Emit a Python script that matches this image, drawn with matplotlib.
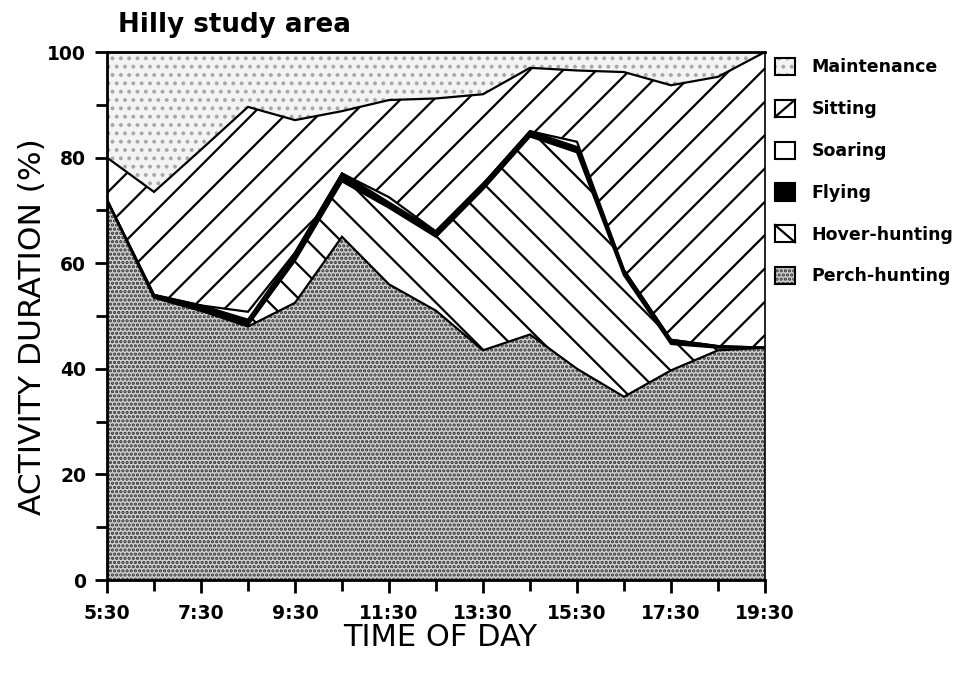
import numpy as np
import matplotlib
matplotlib.use("Agg")
import matplotlib.pyplot as plt
from matplotlib.patches import Patch, Rectangle
from matplotlib.lines import Line2D
from matplotlib.legend_handler import HandlerBase
from matplotlib.ticker import MultipleLocator

plt.rcParams['font.family'] = ['DejaVu Sans']
plt.rcParams['hatch.linewidth'] = 1.6

# ---- data ----
time_hours = [5.5, 6.5, 7.5, 8.5, 9.5, 10.5, 11.5, 12.5, 13.5, 14.5, 15.5, 16.5, 17.5, 18.5, 19.5]
tick_positions = [5.5, 7.5, 9.5, 11.5, 13.5, 15.5, 17.5, 19.5]
tick_labels = ['5:30', '7:30', '9:30', '11:30', '13:30', '15:30', '17:30', '19:30']

perch_hunting = [72, 53.5, 51, 48, 52.5, 65, 56, 51, 43.5, 46.5, 40, 34.7, 39.7, 43.5, 44]
hover_hunting = [0, 0, 0, 0.3, 8, 10.5, 14.5, 14, 30.5, 37.5, 41, 23, 5, 0.5, 0]
flying = [0, 0.5, 1, 1, 1.5, 1.5, 1, 1, 1, 1, 1, 1, 0.8, 0.3, 0]
soaring = [0, 0, 0, 1.5, 0, 0, 1, 0, 0, 0, 1, 0, 0, 0, 0]
sitting = [8, 19.5, 29.5, 38.8, 25.1, 11.8, 18.4, 25.2, 17, 12, 13.5, 37.5, 48.2, 51, 56]
maintenance = [20, 26.5, 18.5, 10.4, 12.9, 11.2, 9.1, 8.8, 8, 3, 3.5, 3.8, 6.3, 4.7, 0]

layer_names = ['Perch-hunting', 'Hover-hunting', 'Flying', 'Soaring', 'Sitting', 'Maintenance']
layers = [perch_hunting, hover_hunting, flying, soaring, sitting, maintenance]
legend_order = ['Maintenance', 'Sitting', 'Soaring', 'Flying', 'Hover-hunting', 'Perch-hunting']

# style per layer: facecolor, hatch, hatch colour
styles = {
    'Perch-hunting': ('#d0d0d0', '....', '#303030'),
    'Hover-hunting': ('white', '\\', '#000000'),
    'Flying': ('black', None, '#000000'),
    'Soaring': ('white', None, '#000000'),
    'Sitting': ('white', '/', '#000000'),
    'Maintenance': ('#f3f3f3', '..', '#a8a8a8'),
}
legend_diag = {'Sitting': '/', 'Hover-hunting': '\\'}

fig = plt.figure(figsize=(9.6, 6.8), dpi=100)
ax = fig.add_axes([107/960, 1-580/680, (765-107)/960, (580-52)/680])

x = np.array(time_hours)
cum = np.zeros(len(x))
tops = []
for name, vals in zip(layer_names, layers):
    lower = cum.copy()
    cum = cum + np.array(vals)
    fc, hatch, hc = styles[name]
    ax.fill_between(x, lower, cum, facecolor=fc, hatch=hatch, edgecolor=hc,
                    linewidth=0, zorder=1)
    tops.append(cum.copy())

for t in tops[:-1]:
    ax.plot(x, t, color='black', lw=1.6, zorder=3, solid_joinstyle='miter')

ax.set_xlim(5.5, 19.5)
ax.set_ylim(0, 100)

ax.set_xticks(tick_positions)
ax.set_xticklabels(tick_labels)
ax.set_xticks(time_hours, minor=True)
ax.yaxis.set_major_locator(MultipleLocator(20))
ax.yaxis.set_minor_locator(MultipleLocator(10))

for sp in ax.spines.values():
    sp.set_linewidth(2)
    sp.set_color('black')
ax.spines['right'].set_linewidth(1.2)

ax.tick_params(axis='both', which='major', direction='out', length=9, width=2,
               labelsize=13.5, pad=6)
ax.tick_params(axis='both', which='minor', direction='out', length=8, width=2)
ax.tick_params(axis='x', which='major', pad=8)
for lab in ax.get_xticklabels() + ax.get_yticklabels():
    lab.set_fontweight('bold')

fig.text(118/960, 1-25/680, 'Hilly study area', fontsize=18.8, fontweight='bold',
         ha='left', va='center')
fig.text(33/960, 1-327/680, 'ACTIVITY DURATION (%)', fontsize=22.5, rotation=90,
         ha='center', va='center')
fig.text(440/960, 1-637/680, 'TIME OF DAY', fontsize=22, ha='center', va='center')


class SwatchHandler(HandlerBase):
    def __init__(self, name):
        super().__init__()
        self.name = name

    def create_artists(self, legend, orig_handle, xdescent, ydescent, width, height,
                       fontsize, trans):
        fc, hatch, hc = styles[self.name]
        x0, y0 = -xdescent, -ydescent
        arts = []
        if self.name in legend_diag:
            fill = Rectangle((x0, y0), width, height, facecolor=fc, edgecolor='none',
                             transform=trans)
            arts.append(fill)
            if legend_diag[self.name] == '/':
                ln = Line2D([x0, x0 + width], [y0, y0 + height], color='black', lw=1.6,
                            transform=trans)
            else:
                ln = Line2D([x0, x0 + width], [y0 + height, y0], color='black', lw=1.6,
                            transform=trans)
            arts.append(ln)
        else:
            fill = Rectangle((x0, y0), width, height, facecolor=fc, hatch=hatch,
                             edgecolor=hc, linewidth=0, transform=trans)
            arts.append(fill)
        border = Rectangle((x0, y0), width, height, facecolor='none', edgecolor='black',
                           linewidth=1.5, transform=trans)
        arts.append(border)
        return arts


handles = [Patch(label=n) for n in legend_order]
hmap = {h: SwatchHandler(n) for h, n in zip(handles, legend_order)}
fig.legend(handles, legend_order, handler_map=hmap,
           loc='upper left', bbox_to_anchor=(775/960, 1-58/680), frameon=False,
           prop={'weight': 'bold', 'size': 12.5}, handlelength=1.15, handleheight=1.15,
           handletextpad=0.95, labelspacing=1.34, borderaxespad=0, borderpad=0)

fig.savefig('out.png', dpi=100)
